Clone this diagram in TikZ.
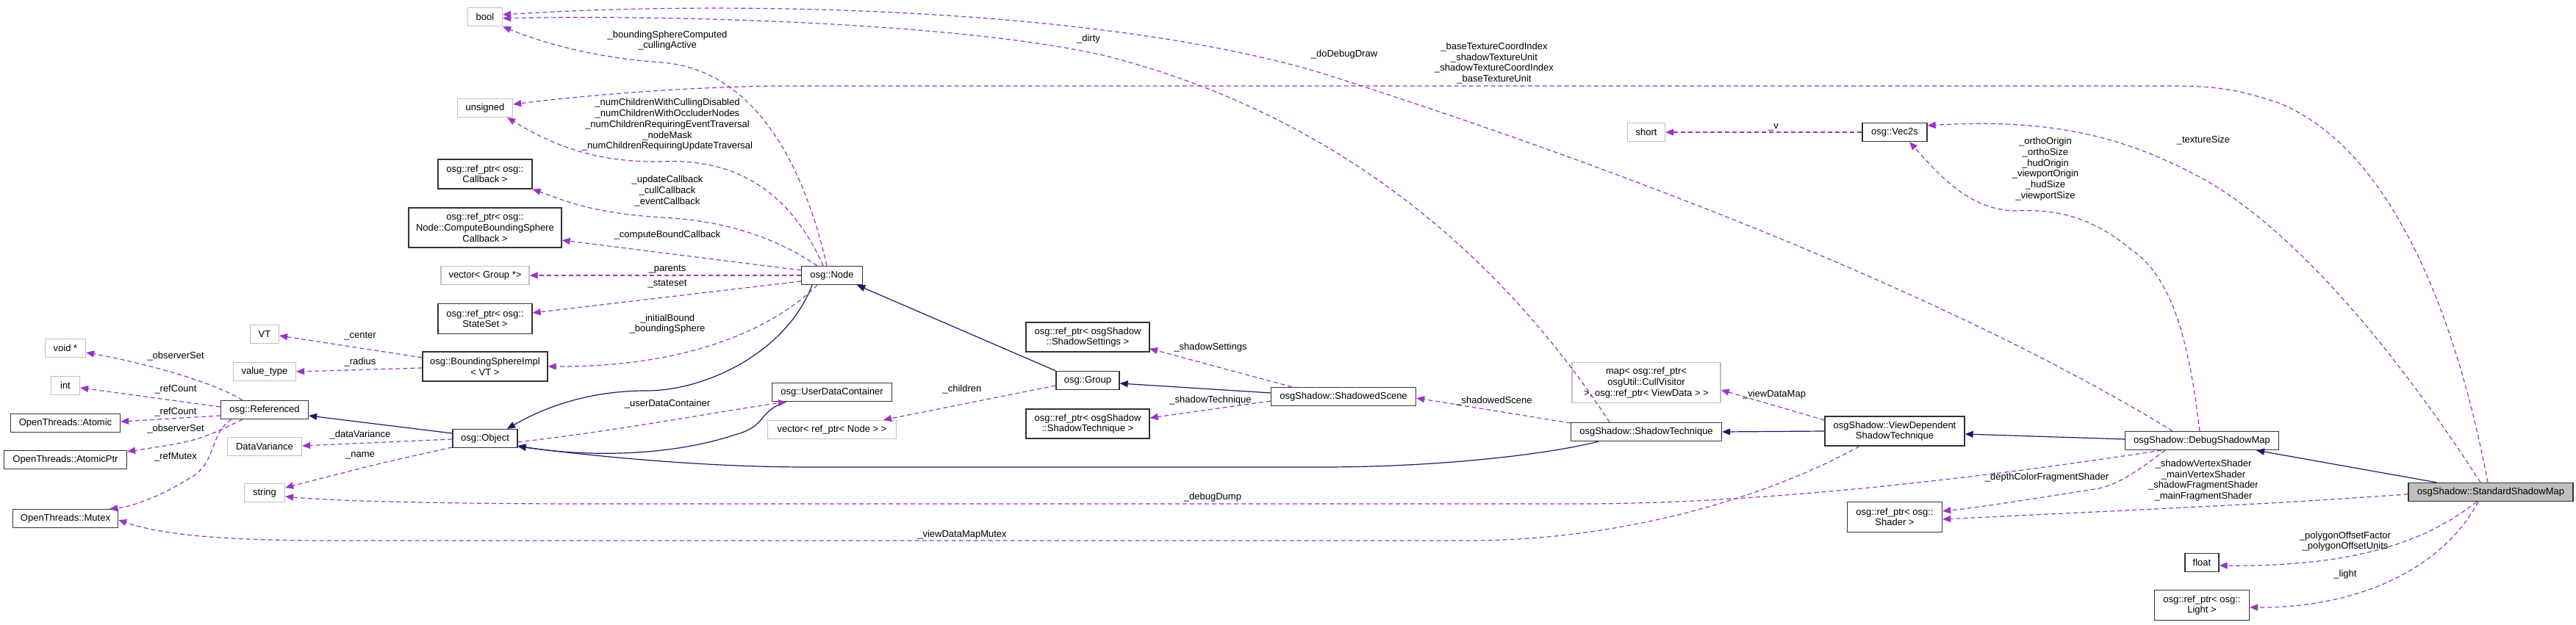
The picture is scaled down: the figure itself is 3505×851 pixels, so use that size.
\documentclass[tikz,border=0pt]{standalone}
\usepackage{fontspec}
\setmainfont{Liberation Sans}
\usetikzlibrary{arrows.meta}
\definecolor{inhc}{HTML}{191970}
\definecolor{memc}{HTML}{9A32CD}
\definecolor{extc}{HTML}{BFBFBF}
\begin{document}
\begin{tikzpicture}[x=1pt,y=-1pt,
  base/.style={draw, line width=1.3pt, fill=white, inner sep=0pt, align=center, font=\fontsize{13}{14.7}\selectfont, minimum height=25pt},
  cls/.style={base, draw=black!80},
  ext/.style={base, draw=extc},
  inh/.style={draw=inhc, line width=1.2pt, -{Triangle[length=11pt,width=9pt]}},
  mem/.style={draw=memc, line width=1.2pt, dash pattern=on 6pt off 4pt, -{Triangle[length=11pt,width=9pt,fill=memc]}},
  lbl/.style={font=\fontsize{13}{14.7}\selectfont, align=center, inner sep=0pt}]
\useasboundingbox (0,0) rectangle (3505,851);
% nodes
\node[ext, minimum width=47pt] (bool) at (660,23) {bool};
\node[ext, minimum width=75pt] (uns) at (660,147) {unsigned};
\node[cls, minimum width=128pt, minimum height=40pt] (cb) at (660,237) {osg::ref\_ptr< osg::\\Callback >};
\node[cls, minimum width=208pt, minimum height=54pt] (cbs) at (660,310) {osg::ref\_ptr< osg::\\Node::ComputeBoundingSphere\\Callback >};
\node[ext, minimum width=120pt] (vg) at (660,375) {vector< Group *>};
\node[cls, minimum width=128pt, minimum height=41pt] (sst) at (660,434) {osg::ref\_ptr< osg::\\StateSet >};
\node[cls, minimum width=170pt, minimum height=40pt] (bsi) at (660,499) {osg::BoundingSphereImpl\\< VT >};
\node[cls, minimum width=88pt] (obj) at (660,597) {osg::Object};
\node[ext, minimum width=55pt] (voidp) at (89,474) {void *};
\node[ext, minimum width=39pt] (int) at (89,525) {int};
\node[cls, minimum width=149pt] (atom) at (89,576) {OpenThreads::Atomic};
\node[cls, minimum width=167pt] (atomp) at (89,626) {OpenThreads::AtomicPtr};
\node[cls, minimum width=143pt] (mutex) at (89,706) {OpenThreads::Mutex};
\node[ext, minimum width=39pt] (vt) at (360,455) {VT};
\node[ext, minimum width=85pt] (vtype) at (360,506) {value\_type};
\node[cls, minimum width=119pt] (ref) at (360,558) {osg::Referenced};
\node[ext, minimum width=101pt] (dv) at (360,608) {DataVariance};
\node[ext, minimum width=55pt] (str) at (360,671) {string};
\node[cls, minimum width=83pt] (node) at (1132,375) {osg::Node};
\node[cls, minimum width=163pt] (udc) at (1132,534) {osg::UserDataContainer};
\node[ext, minimum width=175pt] (vn) at (1132,585) {vector< ref\_ptr< Node > >};
\node[cls, minimum width=86pt] (grp) at (1480,518) {osg::Group};
\node[cls, minimum width=168pt, minimum height=40pt] (sset) at (1480,459) {osg::ref\_ptr< osgShadow\\::ShadowSettings >};
\node[cls, minimum width=168pt, minimum height=40pt] (stref) at (1480,577) {osg::ref\_ptr< osgShadow\\::ShadowTechnique >};
\node[cls, minimum width=197pt] (sscene) at (1828,540) {osgShadow::ShadowedScene};
\node[cls, minimum width=205pt] (st) at (2240,588) {osgShadow::ShadowTechnique};
\node[ext, minimum width=202pt, minimum height=55pt] (map) at (2240,521) {map< osg::ref\_ptr<\\osgUtil::CullVisitor\\>, osg::ref\_ptr< ViewData > >};
\node[cls, minimum width=190pt, minimum height=40pt] (vd) at (2578,587) {osgShadow::ViewDependent\\ShadowTechnique};
\node[cls, minimum width=129pt, minimum height=41pt] (shader) at (2578,704) {osg::ref\_ptr< osg::\\Shader >};
\node[ext, minimum width=51pt] (short) at (2240,180) {short};
\node[cls, minimum width=88pt] (vec) at (2578,180) {osg::Vec2s};
\node[cls, minimum width=209pt] (dsm) at (2996,600) {osgShadow::DebugShadowMap};
\node[cls, minimum width=224pt, fill=extc] (ssm) at (3389,670) {osgShadow::StandardShadowMap};
\node[cls, minimum width=46pt] (float) at (2996,766) {float};
\node[cls, minimum width=129pt, minimum height=41pt] (light) at (2996,824) {osg::ref\_ptr< osg::\\Light >};
% inheritance
\draw[inh] ([yshift=7pt]obj.west) -- ([yshift=-8pt]ref.east);
\draw[inh] ([xshift=-27pt]node.south) .. controls (1070,480) and (960,532) .. (880,532) .. controls (800,532) and (740,555) .. ([xshift=30pt]obj.north);
\draw[inh] (grp.north west) -- ([xshift=-8pt]node.south east);
\draw[inh] ([xshift=-62pt]udc.south) .. controls (1030,560) and (1045,580) .. (1000,592) .. controls (900,625) and (780,620) .. ([yshift=-10pt]obj.east);
\draw[inh] ([xshift=-65pt]st.south) .. controls (2100,620) and (1950,636) .. (1800,636) -- (1100,636) .. controls (950,636) and (800,620) .. ([yshift=-11pt]obj.east);
\draw[inh] ([yshift=5pt]sscene.west) -- ([yshift=-4pt]grp.east);
\draw[inh] (vd.west) -- (st.east);
\draw[inh] ([yshift=2pt]dsm.west) -- ([yshift=-4pt]vd.east);
\draw[inh] ([xshift=-74pt]ssm.north) -- ([xshift=74pt]dsm.south);
% members
\draw[mem] ([xshift=-30pt]ref.north) .. controls (290,520) and (200,495) .. ([yshift=-6pt]voidp.east);
\draw[mem] ([yshift=4pt]ref.west) -- ([yshift=-3pt]int.east);
\draw[mem] ([yshift=-8pt]ref.west) -- ([yshift=2pt]atom.east);
\draw[mem] ([xshift=-30pt]ref.south) .. controls (270,600) .. ([yshift=11pt]atomp.east);
\draw[mem] ([xshift=-45pt]ref.south) .. controls (285,590) and (295,630) .. (260,650) .. controls (220,675) and (180,690) .. ([xshift=60pt]mutex.north);
\draw[mem] ([yshift=12pt]bsi.west) -- ([yshift=-2pt]vt.east);
\draw[mem] ([yshift=-2pt]bsi.west) -- (vtype.east);
\draw[mem] ([yshift=-1pt]obj.west) -- ([yshift=1pt]dv.east);
\draw[mem] ([yshift=-12pt]obj.west) .. controls (520,630) .. ([yshift=7pt]str.east);
\draw[mem] ([yshift=-5pt]obj.east) .. controls (850,585) and (980,560) .. ([xshift=-62pt]udc.south);
\draw[mem] ([xshift=-7pt]node.north) .. controls (1095,230) and (1030,95) .. (900,85) .. controls (800,78) and (730,55) .. (bool.south east);
\draw[mem] ([xshift=-12pt]node.north) .. controls (1075,260) and (1000,215) .. (900,220) .. controls (800,222) and (740,190) .. ([xshift=-8pt]uns.south east);
\draw[mem] ([xshift=-20pt]node.north) .. controls (1050,320) and (980,300) .. (900,296) .. controls (800,290) and (760,270) .. (cb.south east);
\draw[mem] ([yshift=7pt]node.west) -- ([yshift=-17pt]cbs.east);
\draw[mem] (node.west) -- (vg.east);
\draw[mem] ([yshift=-8pt]node.west) -- ([yshift=8pt]sst.east);
\draw[mem] ([xshift=-20pt]node.south) .. controls (1060,440) and (950,500) .. (bsi.east);
\draw[mem] ([yshift=-7pt]grp.west) -- ([xshift=70pt]vn.north);
\draw[mem] ([xshift=-70pt]sscene.north) -- ([xshift=84pt,yshift=5pt]sset.south);
\draw[mem] ([yshift=-6pt]sscene.west) -- ([yshift=8pt]stref.east);
\draw[mem] ([yshift=12pt]st.west) -- ([yshift=-2pt]sscene.east);
\draw[mem] ([xshift=-50pt]st.north) .. controls (2030,330) and (1800,150) .. (1500,75) .. controls (1300,30) and (900,20) .. ([yshift=-2pt]bool.east);
\draw[mem] ([xshift=-40pt]dsm.north) .. controls (2700,430) and (2300,260) .. (1800,100) .. controls (1500,10) and (1000,0) .. ([yshift=3pt]bool.east);
\draw[mem] ([yshift=15pt]vd.west) -- ([yshift=-10pt]map.east);
\draw[mem] ([xshift=-48pt]vd.south) .. controls (2400,680) and (2200,736) .. (2000,736) -- (450,736) .. controls (300,736) and (220,728) .. ([yshift=-2pt]mutex.east);
\draw[mem] ([xshift=-55pt]dsm.south) .. controls (2700,650) and (2400,686) .. (2150,686) -- (800,686) .. controls (600,686) and (450,682) .. ([yshift=-5pt]str.east);
\draw[mem] ([xshift=-3pt]dsm.north) .. controls (2980,480) and (2960,380) .. (2900,340) .. controls (2840,290) and (2790,285) .. (2740,287) .. controls (2680,285) and (2640,240) .. ([xshift=20pt]vec.south);
\draw[mem] ([xshift=-50pt]dsm.south) .. controls (2910,640) and (2880,662) .. (2850,666) .. controls (2760,680) and (2700,690) .. ([yshift=8pt]shader.east);
\draw[mem] (vec.west) -- (short.east);
\draw[mem] ([xshift=-4pt]ssm.north) .. controls (3340,420) and (3250,200) .. (3100,140) .. controls (3040,120) and (3010,117) .. (2950,117) -- (1050,117) .. controls (900,120) and (780,132) .. ([yshift=5pt]uns.east);
\draw[mem] ([xshift=-14pt]ssm.north) .. controls (3300,540) and (3150,330) .. (3000,245) .. controls (2900,190) and (2800,160) .. ([yshift=9pt]vec.east);
\draw[mem] ([yshift=-3pt]ssm.west) .. controls (3100,685) .. ([yshift=-3pt]shader.east);
\draw[mem] ([xshift=-19pt]ssm.south) .. controls (3310,730) and (3220,772) .. ([yshift=-4pt]float.east);
\draw[mem] ([xshift=-17pt]ssm.south) .. controls (3320,780) and (3200,828) .. ([yshift=-3pt]light.east);
% labels
\node[lbl] (l1) at (239,485) {\_observerSet};
\node[lbl] (l2) at (239,530) {\_refCount};
\node[lbl] (l3) at (239,561) {\_refCount};
\node[lbl] (l4) at (239,584) {\_observerSet};
\node[lbl] (l5) at (239,622) {\_refMutex};
\node[lbl] (l6) at (490,458) {\_center};
\node[lbl] (l7) at (490,493) {\_radius};
\node[lbl] (l8) at (490,592) {\_dataVariance};
\node[lbl] (l9) at (490,620) {\_name};
\node[lbl] (l10) at (908,55) {\_boundingSphereComputed\\\_cullingActive};
\node[lbl] (l11) at (908,170) {\_numChildrenWithCullingDisabled\\\_numChildrenWithOccluderNodes\\\_numChildrenRequiringEventTraversal\\\_nodeMask\\\_numChildrenRequiringUpdateTraversal};
\node[lbl] (l12) at (908,260) {\_updateCallback\\\_cullCallback\\\_eventCallback};
\node[lbl] (l13) at (908,320) {\_computeBoundCallback};
\node[lbl] (l14) at (908,367) {\_parents};
\node[lbl] (l15) at (908,387) {\_stateset};
\node[lbl] (l16) at (908,441) {\_initialBound\\\_boundingSphere};
\node[lbl] (l17) at (908,550) {\_userDataContainer};
\node[lbl] (l18) at (1309,530) {\_children};
\node[lbl] (l19) at (1309,728) {\_viewDataMapMutex};
\node[lbl] (l20) at (1481,53) {\_dirty};
\node[lbl] (l21) at (1829,74) {\_doDebugDraw};
\node[lbl] (l22) at (2033,86) {\_baseTextureCoordIndex\\\_shadowTextureUnit\\\_shadowTextureCoordIndex\\\_baseTextureUnit};
\node[lbl] (l23) at (1647,473) {\_shadowSettings};
\node[lbl] (l24) at (1647,545) {\_shadowTechnique};
\node[lbl] (l25) at (2033,546) {\_shadowedScene};
\node[lbl] (l26) at (1650,677) {\_debugDump};
\node[lbl] (l27) at (2413,173) {\_v};
\node[lbl] (l28) at (2783,230) {\_orthoOrigin\\\_orthoSize\\\_hudOrigin\\\_viewportOrigin\\\_hudSize\\\_viewportSize};
\node[lbl] (l29) at (2414,537) {\_viewDataMap};
\node[lbl] (l30) at (2785,650) {\_depthColorFragmentShader};
\node[lbl] (l31) at (2998,191) {\_textureSize};
\node[lbl] (l32) at (2998,654) {\_shadowVertexShader\\\_mainVertexShader\\\_shadowFragmentShader\\\_mainFragmentShader};
\node[lbl] (l33) at (3191,737) {\_polygonOffsetFactor\\\_polygonOffsetUnits};
\node[lbl] (l34) at (3191,782) {\_light};
\end{tikzpicture}
\end{document}
